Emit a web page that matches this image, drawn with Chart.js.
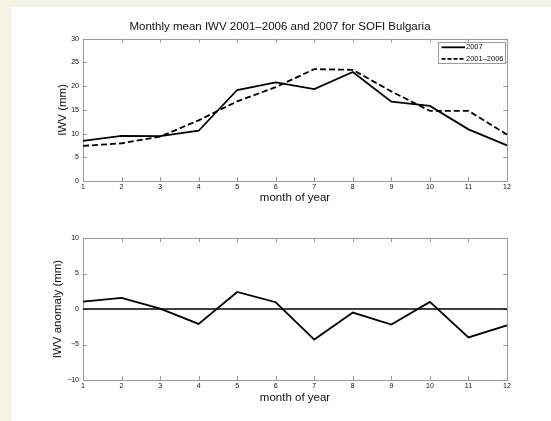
<!DOCTYPE html>
<html>
<head>
<meta charset="utf-8">
<script src="https://cdn.jsdelivr.net/npm/chart.js@4/dist/chart.umd.min.js"></script>
<style>
  html, body { margin: 0; padding: 0; background: #f4f4e5; overflow: hidden; }
  #fig { position: fixed; left: 11px; top: 7px; right: 0; bottom: 0; background: #ffffff; }
  canvas { position: absolute; left: 0; }
  #c1 { top: 0; }
  #c2 { top: 210px; }
</style>
</head>
<body>
<div id="fig"></div>
<canvas id="c1" width="551" height="210"></canvas>
<canvas id="c2" width="551" height="211"></canvas>
<script>
// ---- data ----
const months = ['1','2','3','4','5','6','7','8','9','10','11','12'];
const iwv2007 = [8.45, 9.5, 9.45, 10.6, 19.2, 20.8, 19.4, 23.0, 16.75, 15.85, 10.9, 7.5];
const iwvMean = [7.4, 7.95, 9.35, 12.8, 16.8, 19.8, 23.6, 23.45, 18.9, 14.8, 14.8, 9.8];
const anomaly = [1.05, 1.57, 0.05, -2.1, 2.4, 0.95, -4.3, -0.5, -2.2, 1.0, -4.0, -2.3];
const zeroLine = [0, 0, 0, 0, 0, 0, 0, 0, 0, 0, 0, 0];
const topTicks = [0, 5, 10, 15, 20, 25, 30];
const botTicks = [-10, -5, 0, 5, 10];
const titleText = 'Monthly mean IWV 2001\u20132006 and 2007 for SOFI Bulgaria';
const xTitle = 'month of year';
const yTitleTop = 'IWV (mm)';
const yTitleBot = 'IWV anomaly (mm)';

const FONT = 'Liberation Sans, Arial, Helvetica, sans-serif';
const AXIS = '#9a9a9a';
const TXT = '#111111';

// Box + inward ticks on all four sides (MATLAB style)
const framePlugin = {
  id: 'frame',
  beforeDatasetsDraw(chart) {
    const {ctx, chartArea: a, scales} = chart;
    ctx.save();
    ctx.strokeStyle = AXIS;
    ctx.lineWidth = 1;
    ctx.strokeRect(Math.round(a.left) + 0.5, Math.round(a.top) + 0.5,
                   Math.round(a.right - a.left), Math.round(a.bottom - a.top));
    const tl = 4;
    ctx.beginPath();
    scales.x.ticks.forEach((t, i) => {
      const px = Math.round(scales.x.getPixelForTick(i)) + 0.5;
      ctx.moveTo(px, a.bottom); ctx.lineTo(px, a.bottom - tl);
      ctx.moveTo(px, a.top); ctx.lineTo(px, a.top + tl);
    });
    scales.y.ticks.forEach((t) => {
      const py = Math.round(scales.y.getPixelForValue(t.value)) + 0.5;
      ctx.moveTo(a.left, py); ctx.lineTo(a.left + tl, py);
      ctx.moveTo(a.right, py); ctx.lineTo(a.right - tl, py);
    });
    ctx.stroke();
    ctx.restore();
  }
};

// Legend inside the upper-right corner of the axes
const insideLegend = {
  id: 'insideLegend',
  afterDatasetsDraw(chart, args, opts) {
    if (!opts || !opts.show) return;
    const {ctx, chartArea: a} = chart;
    const x0 = a.right - 69, y0 = a.top + 3, w = 67, h = 21;
    ctx.save();
    ctx.fillStyle = '#ffffff';
    ctx.fillRect(x0, y0, w, h);
    ctx.strokeStyle = AXIS;
    ctx.lineWidth = 1;
    ctx.strokeRect(Math.round(x0) + 0.5, Math.round(y0) + 0.5, w, h);
    ctx.font = '7.5px ' + FONT;
    ctx.textBaseline = 'middle';
    ctx.fillStyle = TXT;
    chart.data.datasets.forEach((ds, i) => {
      const yy = y0 + 5.5 + i * 11.5;
      ctx.beginPath();
      ctx.strokeStyle = ds.borderColor;
      ctx.lineWidth = ds.borderWidth;
      ctx.setLineDash(ds.borderDash ? [4, 2] : []);
      ctx.moveTo(x0 + 3.5, yy); ctx.lineTo(x0 + 27, yy);
      ctx.stroke();
      ctx.setLineDash([]);
      ctx.fillText(ds.label, x0 + 28, yy);
    });
    ctx.restore();
  }
};

function minusFmt(v) { return String(v).replace('-', '\u2212'); }

function makeScales(yMin, yMax, yTicks, yTitle, yWidth, yTitlePad, xHeight) {
  return {
    x: {
      type: 'category',
      offset: false,
      grid: { display: false, drawTicks: false },
      border: { display: false },
      ticks: { autoSkip: false, maxRotation: 0, padding: 2, color: TXT, font: { size: 7, family: FONT } },
      title: { display: true, text: xTitle, color: TXT, font: { size: 11.5, family: FONT }, padding: { top: 0, bottom: 0.1 } },
      afterFit(s) { s.height = xHeight; }
    },
    y: {
      type: 'linear',
      min: yMin, max: yMax,
      afterBuildTicks(s) { s.ticks = yTicks.map(v => ({ value: v })); },
      grid: { display: false, drawTicks: false },
      border: { display: false },
      ticks: { padding: 4, color: TXT, font: { size: 7, family: FONT }, callback: (v) => minusFmt(v) },
      title: { display: true, text: yTitle, color: TXT, font: { size: 11.5, family: FONT }, padding: { top: yTitlePad, bottom: 0 } },
      afterFit(s) { s.width = yWidth; }
    }
  };
}

new Chart(document.getElementById('c1'), {
  type: 'line',
  data: {
    labels: months,
    datasets: [
      { label: '2007', data: iwv2007, borderColor: '#000', borderWidth: 1.8, pointRadius: 0, fill: false, tension: 0 },
      { label: '2001\u20132006', data: iwvMean, borderColor: '#000', borderWidth: 1.8, borderDash: [6, 3], pointRadius: 0, fill: false, tension: 0 }
    ]
  },
  options: {
    responsive: false,
    animation: false,
    devicePixelRatio: 1,
    layout: { padding: { left: 53, right: 44, top: 0, bottom: 5 } },
    scales: makeScales(0, 30, topTicks, yTitleTop, 30, 2.6, 24),
    plugins: {
      legend: { display: false },
      tooltip: { enabled: false },
      title: { display: true, text: titleText, color: TXT, font: { size: 11.5, weight: 'normal', family: FONT }, padding: { top: 20, bottom: 5 } },
      insideLegend: { show: true }
    }
  },
  plugins: [framePlugin, insideLegend]
});

new Chart(document.getElementById('c2'), {
  type: 'line',
  data: {
    labels: months,
    datasets: [
      { label: 'zero', data: zeroLine, borderColor: '#000', borderWidth: 1.5, pointRadius: 0, fill: false, tension: 0 },
      { label: 'anomaly', data: anomaly, borderColor: '#000', borderWidth: 1.8, pointRadius: 0, fill: false, tension: 0 }
    ]
  },
  options: {
    responsive: false,
    animation: false,
    devicePixelRatio: 1,
    layout: { padding: { left: 50, right: 44, top: 28, bottom: 16 } },
    scales: makeScales(-10, 10, botTicks, yTitleBot, 33, 1.4, 25),
    plugins: {
      legend: { display: false },
      tooltip: { enabled: false },
      title: { display: false },
      insideLegend: { show: false }
    }
  },
  plugins: [framePlugin, insideLegend]
});
</script>
</body>
</html>
